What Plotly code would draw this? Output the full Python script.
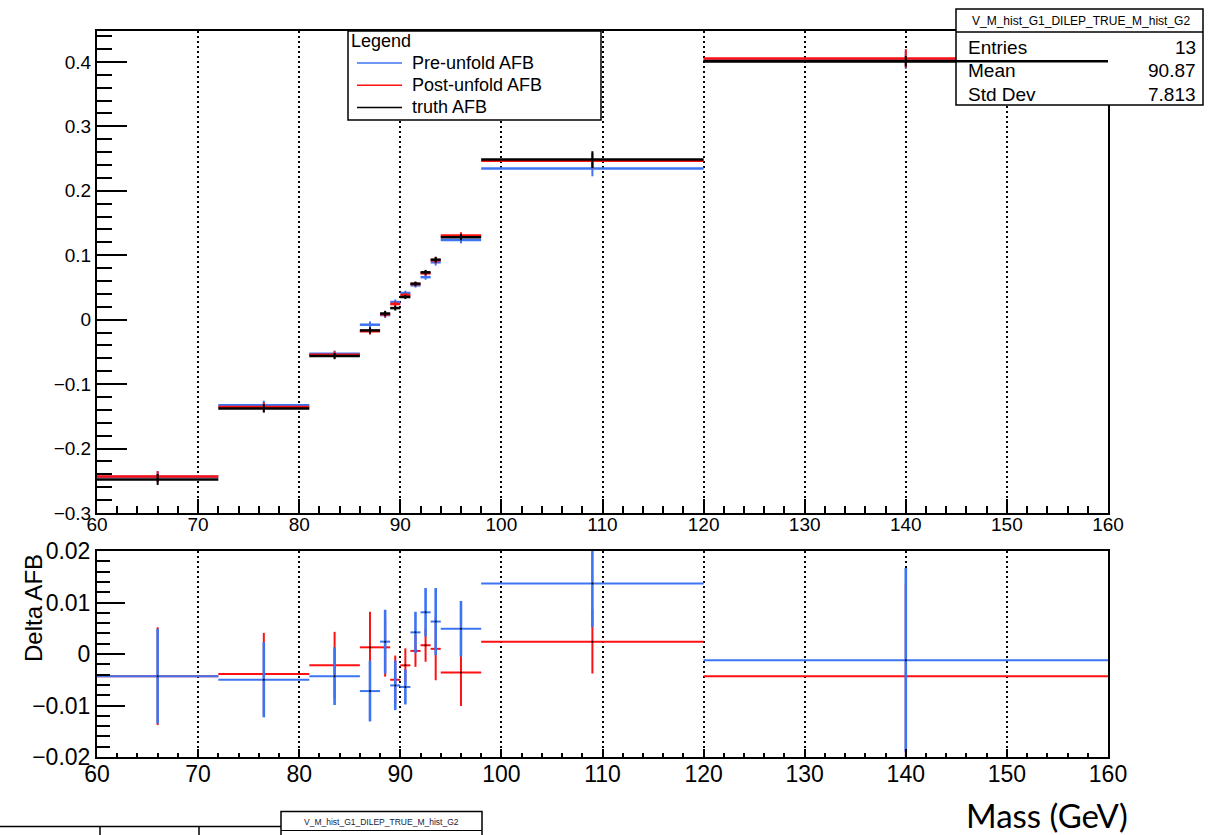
import plotly.graph_objects as go

# ---------------- data ----------------
bin_edges = [60, 72, 81, 86, 88, 89, 90, 91, 92, 93, 94, 98, 120, 160]

pre_afb = [-0.2437, -0.1327, -0.0530, -0.0078, 0.0072, 0.0274, 0.0414, 0.0533, 0.0660, 0.0890, 0.1235, 0.2345, 0.4032]
post_afb = [-0.2435, -0.1356, -0.0543, -0.0180, 0.0083, 0.0243, 0.0383, 0.0553, 0.0720, 0.0922, 0.1305, 0.2468, 0.4053]
truth_afb = [-0.2480, -0.1377, -0.0565, -0.0166, 0.0096, 0.0180, 0.0352, 0.0559, 0.0735, 0.0932, 0.1280, 0.2484, 0.4010]

pre_err = [0.0085, 0.0070, 0.0050, 0.0050, 0.0045, 0.0040, 0.0035, 0.0035, 0.0040, 0.0050, 0.0050, 0.0120, 0.0140]
post_err = [0.0085, 0.0072, 0.0052, 0.0052, 0.0045, 0.0040, 0.0035, 0.0035, 0.0040, 0.0050, 0.0052, 0.0120, 0.0145]
truth_err = [0.0085, 0.0065, 0.0048, 0.0048, 0.0042, 0.0038, 0.0032, 0.0032, 0.0038, 0.0045, 0.0048, 0.0130, 0.0080]

pre_delta = [-0.0043, -0.0050, -0.0043, -0.0072, 0.0024, -0.0061, -0.0064, 0.0042, 0.0081, 0.0063, 0.0049, 0.0137, -0.0012]
post_delta = [-0.0043, -0.0039, -0.0022, 0.0013, 0.0013, -0.0050, -0.0022, 0.0006, 0.0017, 0.0010, -0.0036, 0.0024, -0.0043]
pre_delta_err = [0.0092, 0.0073, 0.0056, 0.0059, 0.0062, 0.0048, 0.0034, 0.0040, 0.0047, 0.0065, 0.0054, 0.0085, 0.0179]
post_delta_err = [0.0095, 0.0080, 0.0065, 0.0069, 0.0057, 0.0047, 0.0033, 0.0031, 0.0032, 0.0061, 0.0065, 0.0062, 0.0180]

series_names = ["Pre-unfold AFB", "Post-unfold AFB", "truth AFB"]
legend_title = "Legend"
stats_title = "V_M_hist_G1_DILEP_TRUE_M_hist_G2"
stats_labels = ["Entries", "Mean", "Std Dev"]
stats_values = ["13", "90.87", "7.813"]

centers = [(a + b) / 2 for a, b in zip(bin_edges[:-1], bin_edges[1:])]
halfw = [(b - a) / 2 for a, b in zip(bin_edges[:-1], bin_edges[1:])]

BLUE = "#3d74f2"
RED = "#ff1010"
BLACK = "#000000"
FONT = "Liberation Sans, Arial, sans-serif"

# ---------------- geometry ----------------
W, H = 1209, 835
ML, MR, MT, MB = 97, 101, 31, 78
PW, PH = W - ML - MR, H - MT - MB


def px(x):
    return (x - ML) / PW


def py(y):
    return (H - MB - y) / PH


fig = go.Figure()


def bars(x, y, ex, ey, color, xa, ya, hthick, vthick, mcolor=None, msize=1):
    fig.add_trace(go.Scatter(
        x=x, y=y, mode="markers", xaxis=xa, yaxis=ya, showlegend=False,
        marker=dict(size=msize, color=mcolor or color),
        error_x=dict(type="data", array=ex, symmetric=True, width=0, thickness=hthick, color=color),
        error_y=dict(type="data", array=ey, symmetric=True, width=0, thickness=vthick, color=color),
        hoverinfo="x+y",
    ))


# top panel: blue, red, then black
bars(centers, pre_afb, halfw, pre_err, BLUE, "x", "y", 2.5, 2)
bars(centers, post_afb, halfw, post_err, RED, "x", "y", 2.5, 2)
bars(centers, truth_afb, halfw, truth_err, BLACK, "x", "y", 2.5, 2)

# bottom panel: red, then blue on top
bars(centers, post_delta, halfw, post_delta_err, RED, "x2", "y2", 2, 2, BLACK, 2)
bars(centers, pre_delta, halfw, pre_delta_err, BLUE, "x2", "y2", 2, 2.6, BLACK, 2)

axis_common = dict(
    showline=True, mirror=True, linecolor="black", linewidth=2,
    ticks="inside", tickcolor="black", tickwidth=1.5,
    zeroline=False,
)
GRID = dict(showgrid=True, gridcolor="black", gridwidth=1.5, griddash="1.5px,3.5px")

fig.update_layout(
    width=W, height=H,
    margin=dict(l=ML, r=MR, t=MT, b=MB, pad=0),
    paper_bgcolor="white", plot_bgcolor="white",
    font=dict(family=FONT, color="black"),
    showlegend=False,
    xaxis=dict(domain=[0, 1], anchor="y", range=[60, 160], tick0=60, dtick=10,
               ticklen=14, minor=dict(ticks="inside", dtick=2, ticklen=7, tickcolor="black", tickwidth=1.5),
               tickfont=dict(size=19, family=FONT), ticklabelstandoff=-7, **GRID, **axis_common),
    yaxis=dict(domain=[py(513), 1], anchor="x", range=[-0.3, 0.448], tick0=0, dtick=0.1,
               ticklen=30, minor=dict(ticks="inside", dtick=0.02, ticklen=15, tickcolor="black", tickwidth=1.5),
               showgrid=False, tickfont=dict(size=19, family=FONT), **axis_common),
    xaxis2=dict(domain=[0, 1], anchor="y2", range=[60, 160], tick0=60, dtick=10,
                ticklen=8, minor=dict(ticks="inside", dtick=2, ticklen=4, tickcolor="black", tickwidth=1.5),
                tickfont=dict(size=23, family=FONT), ticklabelstandoff=-5, **GRID, **axis_common),
    yaxis2=dict(domain=[0, py(551)], anchor="x2", range=[-0.02, 0.02], tick0=0, dtick=0.01,
                ticklen=28, minor=dict(ticks="inside", dtick=0.002, ticklen=13, tickcolor="black", tickwidth=1.5),
                showgrid=False, tickfont=dict(size=23, family=FONT), **axis_common),
)

shapes = []
annotations = []


def pline(x0, x1, y0, y1, color="black", width=1.5):
    shapes.append(dict(type="line", xref="paper", yref="paper", x0=px(x0), x1=px(x1), y0=py(y0), y1=py(y1),
                       line=dict(color=color, width=width), layer="above"))


def ptext(x, y, text, size, xanchor="left", color="black", family=FONT, angle=0):
    annotations.append(dict(xref="paper", yref="paper", x=px(x), y=py(y), text=text, showarrow=False,
                            textangle=angle, font=dict(size=size, family=family, color=color),
                            xanchor=xanchor, yanchor="middle"))


# legend box
shapes.append(dict(type="rect", xref="paper", yref="paper", x0=px(348), x1=px(601), y0=py(120), y1=py(31),
                   fillcolor="white", line=dict(color="black", width=1.5), layer="above"))
ptext(349, 41, legend_title, 18)
for i, (name, col) in enumerate(zip(series_names, [BLUE, RED, BLACK])):
    yy = 63 + i * 22.2
    pline(357, 402, yy, yy, color=col, width=1.5)
    ptext(410, yy, name, 18)

# stats box (covers the frame corner)
shapes.append(dict(type="rect", xref="paper", yref="paper", x0=px(956), x1=px(1203), y0=py(105), y1=py(9),
                   fillcolor="white", line=dict(color="black", width=1.5), layer="above"))
pline(956, 1203, 32, 32)
ptext(1081, 21, stats_title, 12, xanchor="center")
for i, (lab, val) in enumerate(zip(stats_labels, stats_values)):
    yy = 47 + i * 23.5
    ptext(966, yy, lab, 19)
    ptext(1198, yy, val, 19, xanchor="right")

# truth histogram of the last bin is drawn over the stats box
shapes.append(dict(type="line", xref="x", yref="y", x0=bin_edges[-2], x1=bin_edges[-1],
                   y0=truth_afb[-1], y1=truth_afb[-1], line=dict(color=BLACK, width=2.5), layer="above"))

# y title of lower pad
ptext(33, 608, "Delta AFB", 24, xanchor="center", angle=-90)

# x title (added text)
ptext(1047, 815, "Mass (GeV)", 33, xanchor="center", family="Lato, Open Sans, sans-serif")

# fragment of a second canvas at the bottom left
pline(0, 281, 826.5, 826.5)
for tx in (100, 199):
    pline(tx, tx, 827, 836)
shapes.append(dict(type="rect", xref="paper", yref="paper", x0=px(281), x1=px(482), y0=py(845), y1=py(811.5),
                   fillcolor="white", line=dict(color="black", width=1.5), layer="above"))
pline(281, 482, 830.5, 830.5, width=1.2)
ptext(381, 821.5, stats_title, 8.5, xanchor="center", color="#1a1a40")

fig.update_layout(shapes=shapes, annotations=annotations)

fig.write_html("out.html")
